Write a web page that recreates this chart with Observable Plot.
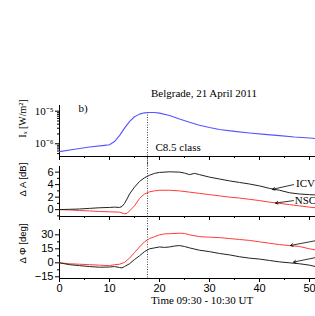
<!DOCTYPE html>
<html><head><meta charset="utf-8">
<script src="https://cdn.jsdelivr.net/npm/d3@7"></script>
<script src="https://cdn.jsdelivr.net/npm/@observablehq/plot@0.6"></script>
<style>
body{margin:0;background:#fff;}
#wrap{position:relative;width:315px;height:316px;overflow:hidden;background:#fff;}
#wrap svg{position:absolute;left:0;}
.t{position:absolute;font-family:"Liberation Serif","Times New Roman",serif;font-size:11px;color:#000;white-space:nowrap;line-height:12px;}
</style></head><body><div id="wrap">
<div class="t" style="left:151px;top:87px;">Belgrade, 21 April 2011</div>
<div class="t" style="left:151px;top:294px;">Time 09:30 - 10:30 UT</div>
</div>
<script>
// ---- data ----
const xrayT = [0, 3, 6, 9, 10, 11, 12, 13, 14, 15, 16, 17, 18, 19, 20, 22, 24, 26, 28, 30, 32, 35, 38, 41, 44, 47, 50, 51.2];
const xrayFlux = [5.75e-7, 6.76e-7, 7.94e-7, 8.91e-7, 9.33e-7, 1.17e-6, 1.78e-6, 3.02e-6, 4.79e-6, 6.76e-6, 8.13e-6, 8.91e-6, 9.12e-6, 9.12e-6, 8.71e-6, 7.41e-6, 5.75e-6, 4.57e-6, 3.72e-6, 3.16e-6, 2.75e-6, 2.40e-6, 2.14e-6, 1.95e-6, 1.78e-6, 1.62e-6, 1.51e-6, 1.45e-6];

const icvAT = [0, 2, 4, 6, 8, 10, 11, 12, 12.5, 13, 13.5, 14, 15, 16, 17, 18, 19, 20, 22, 24, 25, 26, 27, 28, 30, 32, 34, 36, 38, 40, 42, 44, 46, 48, 50, 51.2];
const icvA = [0, 0.05, 0.1, 0.2, 0.3, 0.35, 0.4, 0.35, 0.5, 1.0, 1.7, 2.5, 3.6, 4.5, 5.1, 5.5, 5.8, 5.95, 6.05, 6.0, 5.85, 5.6, 5.8, 5.6, 5.2, 4.9, 4.6, 4.35, 4.1, 3.8, 3.4, 3.1, 2.7, 2.5, 2.4, 2.35];
const nscAT = [0, 2, 4, 6, 8, 10, 12, 13, 13.5, 14, 15, 16, 17, 18, 19, 20, 22, 24, 26, 28, 30, 32, 34, 36, 38, 40, 42, 44, 46, 48, 50, 51.2];
const nscA = [0, -0.05, -0.15, -0.2, -0.3, -0.35, -0.4, -0.65, -0.6, -0.2, 0.6, 1.8, 2.5, 2.85, 3.0, 3.1, 3.1, 3.0, 2.8, 2.6, 2.4, 2.2, 2.0, 1.85, 1.65, 1.45, 1.2, 1.0, 0.8, 0.6, 0.4, 0.3];

const nscPT = [0, 2, 4, 6, 8, 10, 11, 12, 12.5, 13, 14, 15, 16, 17, 18, 19, 20, 21, 22, 24, 25, 26, 28, 30, 32, 34, 36, 38, 40, 42, 44, 46, 48, 50, 51.2];
const nscP = [0, -1, -1.5, -2, -2.5, -3, -2, -1.5, -0.5, 0.5, 5, 11, 17, 22.5, 26, 28, 30, 31, 31.2, 31.7, 31.5, 30, 28, 27.5, 27, 26, 25, 24, 22.5, 21, 19.5, 18.5, 17.5, 15, 13.9];
const icvPT = [0, 2, 4, 6, 8, 10, 11, 12, 12.5, 13, 14, 15, 16, 17, 18, 19, 20, 21, 22, 23, 24, 25, 26, 28, 30, 32, 34, 36, 38, 40, 42, 44, 46, 48, 50, 51.2];
const icvP = [0, -2, -3, -4, -4.7, -4.5, -4, -5, -5.4, -4, -1, 3.5, 7.5, 12, 15, 16, 17, 16.5, 17, 18, 18.5, 17.5, 16, 13.5, 12, 10, 8.5, 6.5, 5, 4, 2.5, 1, 0, -1, -2.5, -4];

const flareTime = 17.6;
const xMajor = [0, 10, 20, 30, 40, 50];
const xMinor = [5, 15, 25, 35, 45];
const fluxTicks = [1e-6, 1e-5];
const fluxTickLabels = ["10\u207B\u2076", "10\u207B\u2075"];
const fluxMinor = [5e-7, 6e-7, 7e-7, 8e-7, 9e-7, 2e-6, 3e-6, 4e-6, 5e-6, 6e-6, 7e-6, 8e-6, 9e-6];
const aTicks = [0, 2, 4, 6];
const aMinor = [-1, 1, 3, 5];
const pTicks = [-15, 0, 15, 30];
const pMinor = [-7.5, 7.5, 22.5];

// ---- layout ----
const SANS = "'Liberation Sans', Arial, sans-serif";
const SERIF = "'Liberation Serif', 'Times New Roman', serif";
const xDom = [0, 51.2];
const common = {width: 315, marginLeft: 59, marginRight: 0,
  style: {background: "transparent", overflow: "visible", fontFamily: SANS, fontSize: "11px", color: "#000"},
  x: {domain: xDom}};
const rows = (t, v) => t.map((d, i) => ({t: d, v: v[i]}));

function xAxes(withText) {
  return [
    Plot.axisX({ticks: xMajor, tickSize: 4, tickPadding: 2, label: null, fill: withText ? "currentColor" : "none", fontFamily: SANS, fontSize: 11}),
    Plot.axisX({ticks: xMinor, tickSize: 2, label: null, fill: "none"})
  ];
}

const wrap = document.getElementById("wrap");

// Panel 1: X-ray flux
const fDom = [4.07e-7, 1.496e-5];
const p1 = Plot.plot({...common, height: 73, marginTop: 10, marginBottom: 12,
  y: {type: "log", domain: fDom},
  marks: [
    Plot.ruleX([0], {stroke: "#000"}),
    Plot.ruleY([fDom[0]], {stroke: "#000"}),
    ...xAxes(false),
    Plot.axisY({ticks: fluxTicks, tickFormat: (d) => fluxTickLabels[fluxTicks.indexOf(d)], tickSize: 4, tickPadding: 2, label: null, fontFamily: SERIF, fontSize: 11}),
    Plot.axisY({ticks: fluxMinor, tickSize: 2, label: null, fill: "none"}),
    Plot.ruleX([{t: flareTime, a: 9.1e-6, b: 2.0e-7}], {x: "t", y1: "a", y2: "b", stroke: "#444", strokeDasharray: "1,1.5"}),
    Plot.line(rows(xrayT, xrayFlux), {x: "t", y: "v", stroke: "#5555ff", strokeWidth: 1.1}),
    Plot.text(["b)"], {x: [3.8], y: [1.21e-5], textAnchor: "start", fontFamily: SERIF, fontSize: 11}),
    Plot.text(["C8.5 class"], {x: [19.2], y: [7.98e-7], textAnchor: "start", fontFamily: SERIF, fontSize: 11}),
    Plot.text(["I\u2093 [W/m\u00B2]"], {x: [-7.4], y: [5.97e-6], rotate: -90, fontFamily: SERIF, fontSize: 10})
  ]});
p1.style.top = "95px";
wrap.appendChild(p1);

// Panel 2: amplitude
const aDom = [-1.1, 6.9];
const p2 = Plot.plot({...common, height: 72, marginTop: 8, marginBottom: 14,
  y: {domain: aDom},
  marks: [
    Plot.ruleX([0], {stroke: "#000"}),
    Plot.ruleY([aDom[0]], {stroke: "#000"}),
    ...xAxes(false),
    Plot.axisY({ticks: aTicks, tickSize: 4, tickPadding: 2, label: null, fontFamily: SANS, fontSize: 11}),
    Plot.axisY({ticks: aMinor, tickSize: 2, label: null, fill: "none"}),
    Plot.ruleX([{t: flareTime, a: 8.18, b: -3.18}], {x: "t", y1: "a", y2: "b", stroke: "#444", strokeDasharray: "1,1.5"}),
    Plot.line(rows(nscAT, nscA), {x: "t", y: "v", stroke: "#ff3b3b", strokeWidth: 1}),
    Plot.line(rows(icvAT, icvA), {x: "t", y: "v", stroke: "#222", strokeWidth: 1}),
    Plot.arrow([{x1: 46.8, y1: 4.0, x2: 42.6, y2: 3.25}, {x1: 46.8, y1: 1.44, x2: 43.2, y2: 1.05}], {x1: "x1", y1: "y1", x2: "x2", y2: "y2", stroke: "#000", headLength: 5, strokeWidth: 0.8}),
    Plot.text(["ICV", "NSC"], {x: [49.2, 49.2], y: [4.16, 1.52], fontFamily: SERIF, fontSize: 11}),
    Plot.text(["\u0394 A [dB]"], {x: [-7.4], y: [4.8], rotate: -90, fontFamily: SANS, fontSize: 9.5})
  ]});
p2.style.top = "158px";
wrap.appendChild(p2);

// Panel 3: phase
const pDom = [-16.8, 35.7];
const p3 = Plot.plot({...common, height: 81, marginTop: 8, marginBottom: 24,
  y: {domain: pDom},
  marks: [
    Plot.ruleX([0], {stroke: "#000"}),
    Plot.ruleY([pDom[0]], {stroke: "#000"}),
    ...xAxes(true),
    Plot.axisY({ticks: pTicks, tickSize: 4, tickPadding: 2, label: null, fontFamily: SANS, fontSize: 11}),
    Plot.axisY({ticks: pMinor, tickSize: 2, label: null, fill: "none"}),
    Plot.ruleX([{t: flareTime, a: 35.7, b: -16.8}], {x: "t", y1: "a", y2: "b", stroke: "#444", strokeDasharray: "1,1.5"}),
    Plot.line(rows(nscPT, nscP), {x: "t", y: "v", stroke: "#ff3b3b", strokeWidth: 1}),
    Plot.line(rows(icvPT, icvP), {x: "t", y: "v", stroke: "#222", strokeWidth: 1}),
    Plot.arrow([{x1: 52.5, y1: 25, x2: 46.2, y2: 18.6}, {x1: 52.5, y1: 7, x2: 46.8, y2: 0.8}], {x1: "x1", y1: "y1", x2: "x2", y2: "y2", stroke: "#000", headLength: 5, strokeWidth: 0.8}),
    Plot.text(["\u0394 \u03A6 [deg]"], {x: [-7.4], y: [20.7], rotate: -90, fontFamily: SANS, fontSize: 9.5})
  ]});
p3.style.top = "221px";
wrap.appendChild(p3);
</script>
</body></html>
